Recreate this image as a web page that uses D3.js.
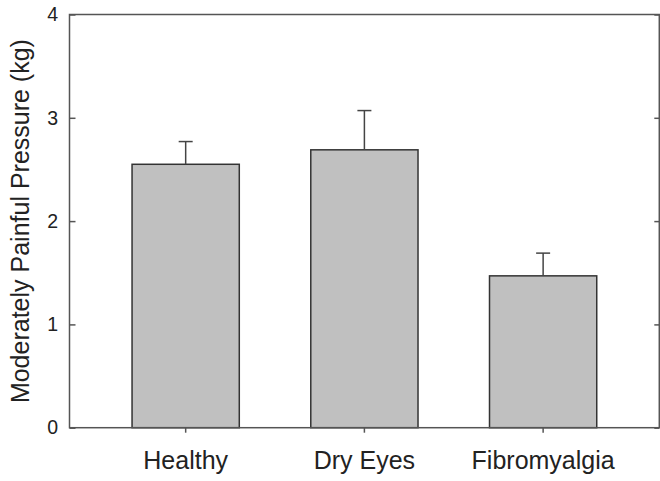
<!DOCTYPE html>
<html>
<head>
<meta charset="utf-8">
<script src="https://cdn.jsdelivr.net/npm/d3@7"></script>
<style>
  body { margin: 0; background: #fff; }
  svg { display: block; }
</style>
</head>
<body>
<div id="chart"></div>
<script>
// data
var groups = ["Healthy", "Dry Eyes", "Fibromyalgia"];
var means = [2.55, 2.69, 1.47];
var errs = [0.22, 0.38, 0.22];
var yTicks = [0, 1, 2, 3, 4];

var width = 660, height = 481;
// plot area edges (window.top is reserved, so use other names)
var pLeft = 69.5, pRight = 659.3, pTop = 14.5, pBottom = 427.7;

var svg = d3.select("#chart")
	.append("svg")
	.attr("width", width)
	.attr("height", height)
	.style("font-family", "Liberation Sans, Arial, sans-serif");

// scales
var xscale = d3.scaleBand()
	.domain(groups)
	.range([pLeft, pRight])
	.paddingInner(0.4)
	.paddingOuter(0.35);

var yscale = d3.scaleLinear()
	.domain([0, 4])
	.range([pBottom, pTop]);

// bars
svg.selectAll(".bar")
	.data(groups)
	.enter().append("rect")
	.attr("class", "bar")
	.attr("x", function(d) { return xscale(d); })
	.attr("y", function(d, i) { return yscale(means[i]); })
	.attr("width", xscale.bandwidth())
	.attr("height", function(d, i) { return yscale(0) - yscale(means[i]); })
	.style("fill", "#c0c0c0")
	.style("stroke", "#333")
	.style("stroke-width", 1.5);

// upper error bars only
var capW = 14;
var eb = svg.selectAll(".err")
	.data(groups)
	.enter().append("g")
	.attr("class", "err")
	.style("stroke", "#444")
	.style("stroke-width", 1.5);
eb.append("line")
	.attr("x1", function(d) { return xscale(d) + xscale.bandwidth() / 2; })
	.attr("x2", function(d) { return xscale(d) + xscale.bandwidth() / 2; })
	.attr("y1", function(d, i) { return yscale(means[i]); })
	.attr("y2", function(d, i) { return yscale(means[i] + errs[i]); });
eb.append("line")
	.attr("x1", function(d) { return xscale(d) + xscale.bandwidth() / 2 - capW / 2; })
	.attr("x2", function(d) { return xscale(d) + xscale.bandwidth() / 2 + capW / 2; })
	.attr("y1", function(d, i) { return yscale(means[i] + errs[i]); })
	.attr("y2", function(d, i) { return yscale(means[i] + errs[i]); });

// axes
var y_axis = d3.axisLeft(yscale)
	.tickValues(yTicks)
	.tickFormat(d3.format("d"))
	.tickSizeInner(-6)
	.tickSizeOuter(0)
	.tickPadding(11.5);
var gy = svg.append("g")
	.attr("transform", "translate(" + pLeft + ",0)")
	.call(y_axis);
gy.selectAll("text").style("font-size", "19.5px").style("fill", "#222");

var y_right = d3.axisRight(yscale)
	.tickValues(yTicks)
	.tickFormat("")
	.tickSizeInner(-5)
	.tickSizeOuter(0);
svg.append("g")
	.attr("transform", "translate(" + pRight + ",0)")
	.call(y_right);

var x_axis = d3.axisBottom(xscale)
	.tickSizeInner(5)
	.tickSizeOuter(0)
	.tickPadding(19);
var gx = svg.append("g")
	.attr("transform", "translate(0," + pBottom + ")")
	.call(x_axis);
gx.selectAll("text").style("font-size", "25px").style("fill", "#222");

svg.selectAll(".domain").remove();
svg.selectAll(".tick line").style("stroke", "#555").style("stroke-width", 1.5);

// frame
svg.append("rect")
	.attr("x", pLeft)
	.attr("y", pTop)
	.attr("width", pRight - pLeft)
	.attr("height", pBottom - pTop)
	.style("fill", "none")
	.style("stroke", "#555")
	.style("stroke-width", 1.5);

// y label
svg.append("text")
	.attr("transform", "translate(29," + ((pTop + pBottom) / 2) + ") rotate(-90)")
	.attr("text-anchor", "middle")
	.style("font-size", "25px")
	.style("fill", "#222")
	.text("Moderately Painful Pressure (kg)");
</script>
</body>
</html>
